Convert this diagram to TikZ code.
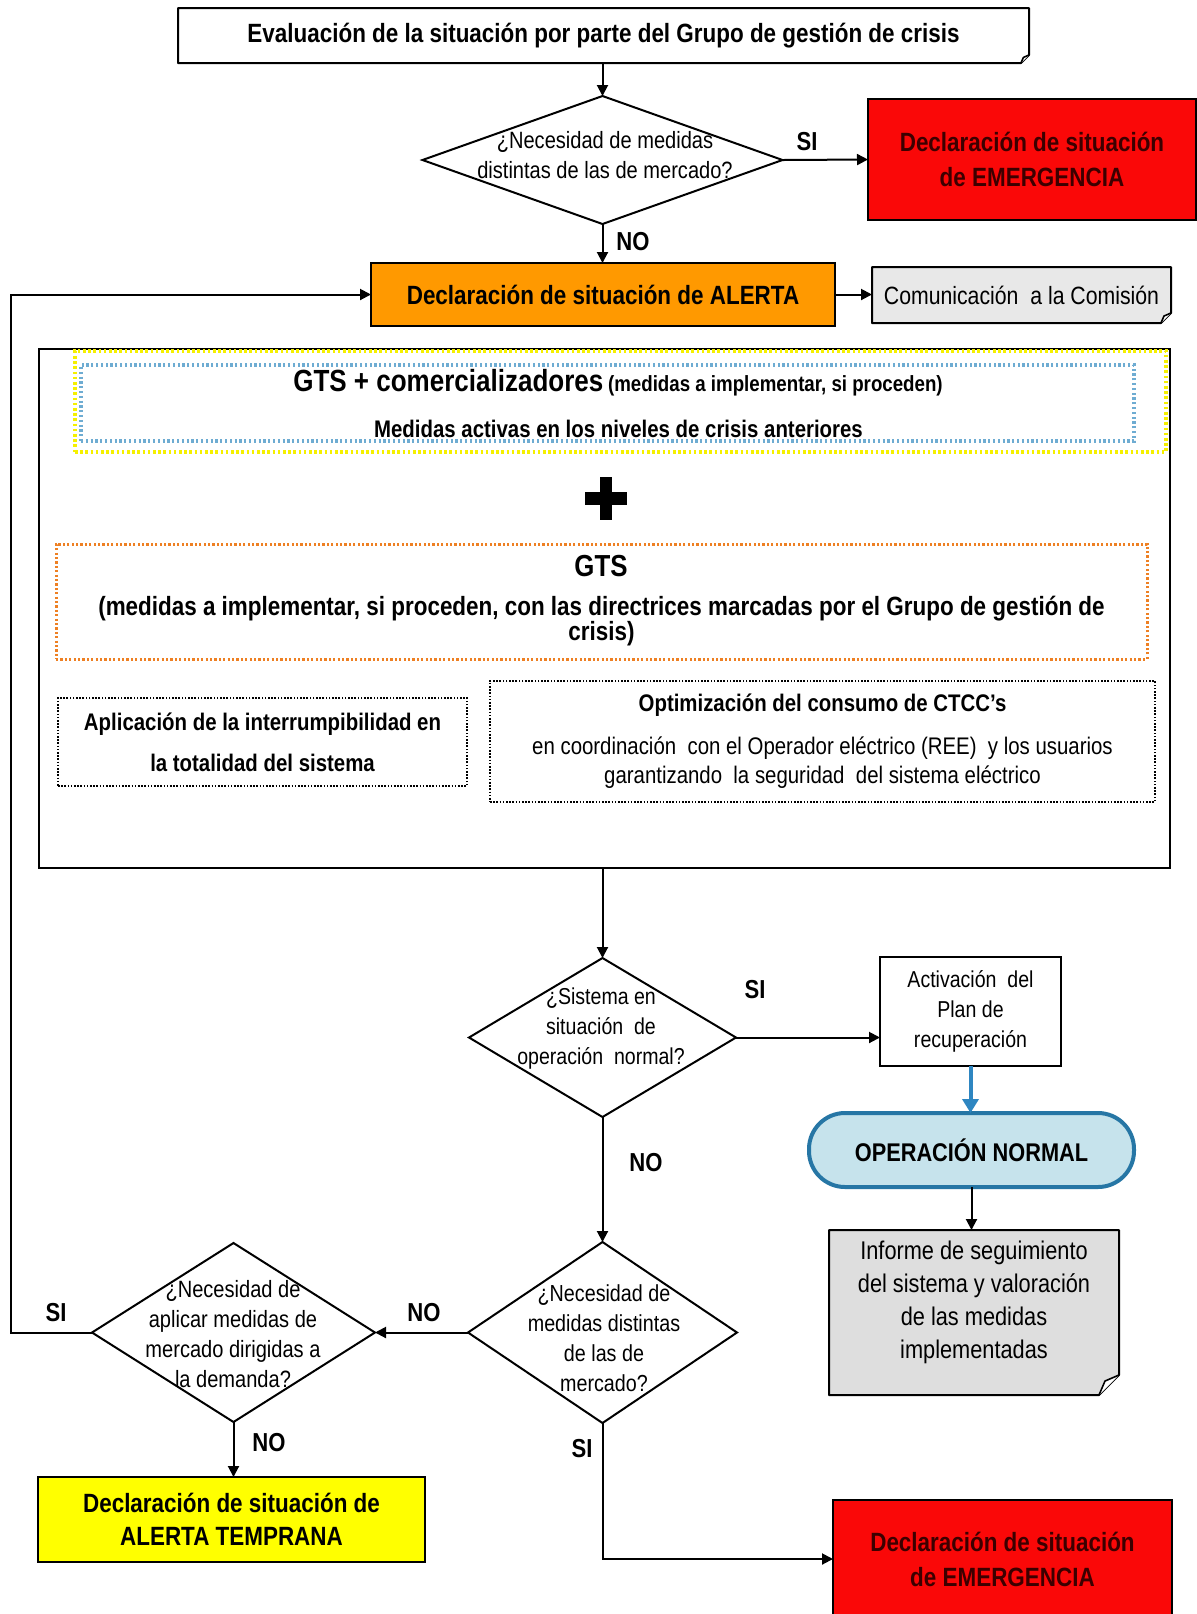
\documentclass[tikz,border=0pt]{standalone}
\usepackage{fontspec}
\setmainfont[FakeStretch=0.85]{Liberation Sans}
\usetikzlibrary{arrows.meta,shapes.geometric,calc}
\definecolor{cRed}{RGB}{250,8,8}
\definecolor{cRedText}{RGB}{60,0,0}
\definecolor{cOrange}{RGB}{255,153,0}
\definecolor{cYellow}{RGB}{255,255,0}
\definecolor{cGray}{RGB}{222,222,222}
\definecolor{cLightGray}{RGB}{232,232,232}
\definecolor{cLightBlue}{RGB}{198,227,236}
\definecolor{cTeal}{RGB}{38,118,165}
\definecolor{cArrowBlue}{RGB}{46,134,193}
\definecolor{cDotBlue}{RGB}{110,172,210}
\definecolor{cDotOrange}{RGB}{238,128,35}
\definecolor{cDotYellow}{RGB}{245,240,0}
\newcommand\fsz[2]{\fontsize{#1}{#2}\selectfont}
\newcommand\dogear[2]{%
  \fill[white] (#1.south east) -- ([yshift=#2pt]#1.south east) -- ([xshift=-#2pt]#1.south east) -- cycle;
  \draw[line width=1pt, line join=round] (#1.north west) -- (#1.north east) -- ([yshift=#2pt]#1.south east) -- ([xshift=-#2pt]#1.south east) -- (#1.south west) -- cycle;
  \draw[line width=0.8pt, fill=white, line join=round] ([yshift=#2pt]#1.south east) -- ([xshift={-0.7*#2pt},yshift={0.7*#2pt}]#1.south east) -- ([xshift=-#2pt]#1.south east);
}
\begin{document}
\begin{tikzpicture}[x=0.5pt,y=-0.5pt,
  every node/.style={inner sep=0pt, outer sep=0pt},
  box/.style={draw=black, line width=1pt},
  dia/.style={diamond, draw=black, line width=1pt, inner sep=0pt},
  conn/.style={line width=1pt, -{Triangle[length=5.5pt,width=5.5pt]}},
  yn/.style={font=\bfseries\fsz{13}{15}},
  txt/.style={align=center},
  bd/.style={font=\bfseries\fsz{13.2}{17.5}},
  rg/.style={font=\fsz{11.8}{15}},
]
\useasboundingbox (0,0) rectangle (1196,1614);

% top box
\node[fill=white, minimum width=425.5pt, minimum height=27.5pt, bd] (top) at (603.5,35.5) {Evaluación de la situación por parte del Grupo de gestión de crisis};
\dogear{top}{4}

% decision 1
\node[dia, minimum width=180pt, minimum height=64pt] (d1) at (602.5,160) {};
\node[txt, rg] (d1t) at (605,155) {¿Necesidad de medidas\\distintas de las de mercado?};

\node[box, fill=cRed, text=cRedText, minimum width=164pt, minimum height=60.5pt, txt, bd] (em1) at (1032,159.5) {Declaración de situación\\de EMERGENCIA};

\node[box, fill=cOrange, minimum width=232pt, minimum height=31.5pt, bd] (alert) at (603,294.5) {Declaración de situación de ALERTA};

\node[fill=cLightGray, minimum width=149.5pt, minimum height=28pt, font=\fsz{12.5}{15}] (com) at (1021.5,295) {Comunicación\ \ a la Comisión};
\dogear{com}{5}

% big box
\node[box, minimum width=565.5pt, minimum height=259.5pt] (big) at (604.5,608.5) {};
\node[draw=cDotYellow, line width=2pt, dash pattern=on 1.3pt off 1.3pt, minimum width=545.5pt, minimum height=50.5pt] (ydot) at (620.5,401.5) {};
\node[draw=cDotBlue, line width=1.6pt, dash pattern=on 1.1pt off 1.3pt, minimum width=526.5pt, minimum height=38pt] (bdot) at (607.5,403) {};
\node (gts1) at (618,383) {{\bfseries\fsz{15.3}{18}GTS + comercializadores} {\bfseries\fsz{11}{13}(medidas a implementar, si proceden)}};
\node[font=\bfseries\fsz{12}{15}] (medact) at (618.5,429) {Medidas activas en los niveles de crisis anteriores};
\fill (599.5,477) rectangle (611.5,520);
\fill (585,492) rectangle (627,505);

\node[draw=cDotOrange, line width=1.5pt, dash pattern=on 1.1pt off 1.1pt, minimum width=545.5pt, minimum height=57.5pt] (odot) at (601.5,601.5) {};
\node[font=\bfseries\fsz{15.2}{18}] (gts2) at (601,566) {GTS};
\node[txt, font=\bfseries\fsz{13.2}{12.5}] (gts2b) at (601.5,621) {(medidas a implementar, si proceden, con las directrices marcadas por el Grupo de gestión de\\crisis)};

\node[draw, line width=0.9pt, dash pattern=on 0.8pt off 0.8pt, minimum width=204.5pt, minimum height=44pt, txt, font=\bfseries\fsz{12}{20.5}] (ldot) at (262.5,742) {Aplicación de la interrumpibilidad en\\la totalidad del sistema};
\node[draw, line width=0.9pt, dash pattern=on 0.8pt off 0.8pt, minimum width=332.5pt, minimum height=60.5pt, txt, font=\fsz{12}{14.5}] (rdot) at (822.5,741.5) {{\bfseries Optimización del consumo de CTCC’s}\\[7pt]en coordinación\ \ con el Operador eléctrico (REE)\ \ y los usuarios\\garantizando\ \ la seguridad\ \ del sistema eléctrico};

% decision 2
\node[dia, minimum width=133.5pt, minimum height=79.5pt] (d2) at (602.5,1037.5) {};
\node[txt, font=\fsz{11.5}{15}] (d2t) at (601,1029) {¿Sistema en\\situación\ \ de\\operación\ \ normal?};

\node[box, fill=white, minimum width=90.5pt, minimum height=54.5pt, txt, font=\fsz{11.5}{14.8}] (act) at (970.5,1011.5) {Activación\ \ del\\Plan de\\recuperación};

\node[draw=cTeal, line width=2pt, fill=cLightBlue, rounded corners=18pt, minimum width=162.5pt, minimum height=37pt, font=\bfseries\fsz{12.8}{15}] (normal) at (971.5,1150) {OPERACIÓN NORMAL};

\node[fill=cGray, minimum width=145pt, minimum height=82.5pt] (inf) at (974,1312.5) {};
\dogear{inf}{10}
\node[txt, font=\fsz{12.8}{16.5}] (inft) at (974,1302) {Informe de seguimiento\\del sistema y valoración\\de las medidas\\implementadas};

% decision 3
\node[dia, minimum width=134.5pt, minimum height=90.5pt] (d3) at (602.5,1332.5) {};
\node[txt, font=\fsz{11.6}{15}] (d3t) at (604,1338) {¿Necesidad de\\medidas distintas\\de las de\\mercado?};

% decision 4
\node[dia, minimum width=141.5pt, minimum height=89.5pt] (d4) at (233.5,1332.5) {};
\node[txt, font=\fsz{11.8}{15}] (d4t) at (233,1334) {¿Necesidad de\\aplicar medidas de\\mercado dirigidas a\\la demanda?};

\node[box, fill=cYellow, minimum width=193.5pt, minimum height=42.5pt, txt, font=\bfseries\fsz{13.2}{16.5}] (yel) at (231.5,1519.5) {Declaración de situación de\\ALERTA TEMPRANA};

\node[box, fill=cRed, text=cRedText, minimum width=169.5pt, minimum height=59pt, txt, bd] (em2) at (1002.5,1559) {Declaración de situación\\de EMERGENCIA};

% labels
\node[yn] (lsi1) at (807,142) {SI};
\node[yn] (lno1) at (633,242) {NO};
\node[yn] (lsi2) at (755,990) {SI};
\node[yn] (lno2) at (646,1163) {NO};
\node[yn] (lno3) at (424,1313) {NO};
\node[yn] (lsi3) at (56,1313) {SI};
\node[yn] (lno4) at (269,1443) {NO};
\node[yn] (lsi4) at (582,1449) {SI};

% connectors
\draw[conn] (top.south -| d1.north) -- (d1.north);
\draw[conn] (d1.east) -- (em1.west);
\draw[conn] (d1.south) -- (d1.south |- alert.north);
\draw[conn] (alert.east) -- (alert.east -| com.west);
\draw[conn] (big.south -| d2.north) -- (d2.north);
\draw[conn] (d2.east) -- (d2.east -| act.west);
\draw[line width=2pt, cArrowBlue, -{Triangle[length=7pt,width=8pt]}] (act.south) -- (act.south |- normal.north);
\draw[conn] (normal.south) -- (normal.south |- inf.north);
\draw[conn] (d2.south) -- (d3.north);
\draw[conn] (d3.west) -- (d4.east);
\coordinate (fbx) at (11,0);
\draw[conn] (d4.west) -- (d4.west -| fbx) |- (alert.west);
\draw[conn] (d4.south) -- (d4.south |- yel.north);
\draw[conn] (d3.south) |- (em2.west);
\end{tikzpicture}
\end{document}
